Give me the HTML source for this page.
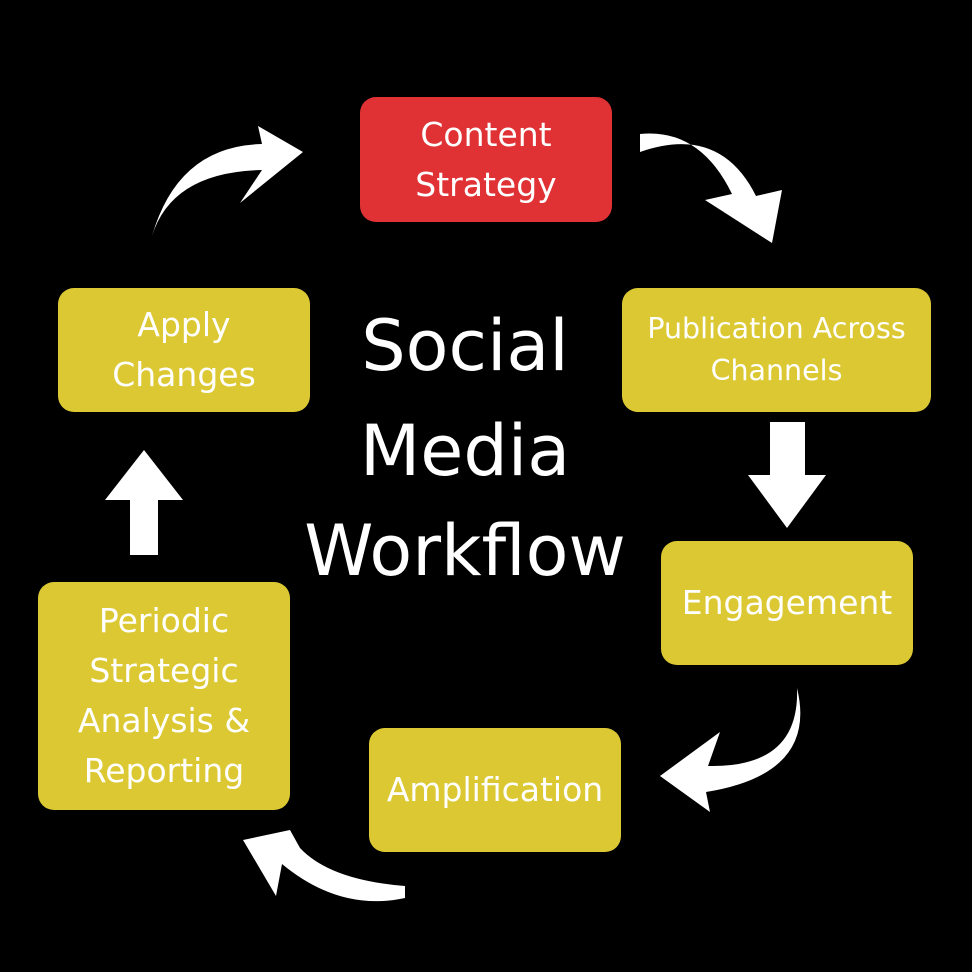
<!DOCTYPE html>
<html><head><meta charset="utf-8"><style>
body{margin:0;background:#000;width:972px;height:972px;overflow:hidden;position:relative;font-family:"DejaVu Sans","Liberation Sans",sans-serif}
.b{position:absolute;background:#dcc832;border-radius:16px;color:#fff;display:flex;align-items:center;justify-content:center;text-align:center;font-size:33px;line-height:50px}
.t{position:absolute;color:#fff;font-size:70px;text-align:center;width:440px;left:245px}
</style></head><body>
<div class="b" style="left:360px;top:97px;width:252px;height:125px;background:#e03234">Content<br>Strategy</div>
<div class="b" style="left:622px;top:288px;width:309px;height:124px;font-size:28.5px;line-height:42px">Publication Across<br>Channels</div>
<div class="b" style="left:661px;top:541px;width:252px;height:124px">Engagement</div>
<div class="b" style="left:369px;top:728px;width:252px;height:124px">Amplification</div>
<div class="b" style="left:38px;top:582px;width:252px;height:228px">Periodic<br>Strategic<br>Analysis &amp;<br>Reporting</div>
<div class="b" style="left:58px;top:288px;width:252px;height:124px">Apply<br>Changes</div>
<div class="t" style="top:305px">Social</div>
<div class="t" style="top:410px">Media</div>
<div class="t" style="top:510px">Workflow</div>
<svg width="972" height="972" style="position:absolute;left:0;top:0" fill="#fff">
<path d="M152,236 Q172,172 262,170 L240,203 L303,152 L258,126 L262,144 Q178,146 152,236Z"/>
<path d="M640,134 Q700,128 732,194 L705,200 L772,243 L782,190 L756,196 Q720,124 640,152Z"/>
<path d="M797,688 Q800,768 708,766 L720,732 L660,776 L710,812 L706,792 Q818,774 797,688Z"/>
<path d="M405,886 Q330,880 300,848 L290,830 L243,840 L276,896 L282,864 Q340,912 405,898Z"/>
<path d="M770,422 H805 V475 H826 L787,528 L748,475 H770Z"/>
<path d="M130,555 H158 V500 H183 L144,450 L105,500 H130Z"/>
</svg>
</body></html>
